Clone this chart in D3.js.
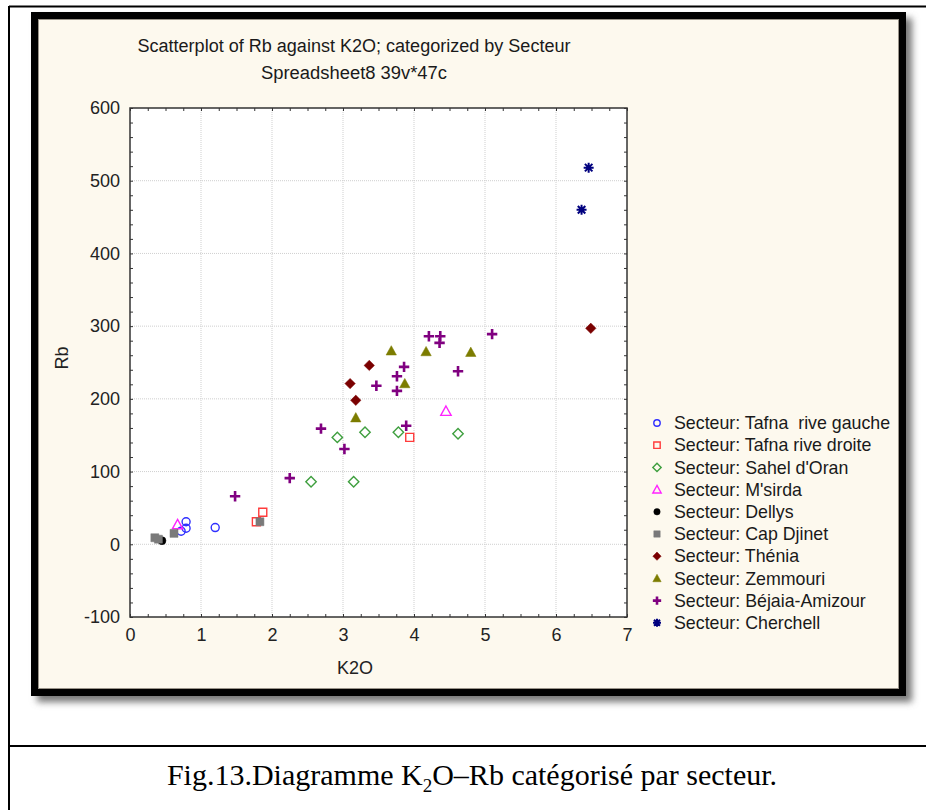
<!DOCTYPE html>
<html>
<head>
<meta charset="utf-8">
<script src="https://cdn.jsdelivr.net/npm/d3@7"></script>
<style>
  body { margin: 0; background: #fff; }
  svg { display: block; }
</style>
</head>
<body>
<div id="chart"></div>
<script>
// K2O / Rb pairs, one array per sector
var tafnaGauche  = [[0.72, 18], [0.79, 22], [0.79, 31], [1.20, 23]];
var tafnaDroite  = [[1.78, 31], [1.87, 44], [3.94, 147]];
var sahelOran    = [[2.55, 86], [2.92, 147], [3.15, 86], [3.31, 154], [3.78, 154], [4.62, 152]];
var msirda       = [[0.67, 27], [4.45, 183]];
var dellys       = [[0.45, 5]];
var capDjinet    = [[0.35, 9], [0.40, 7], [0.62, 15], [1.83, 31]];
var thenia       = [[3.10, 221], [3.18, 198], [3.37, 246], [6.49, 297]];
var zemmouri     = [[3.18, 174], [3.68, 266], [3.87, 221], [4.17, 265], [4.80, 264]];
var bejaia       = [[1.48, 66], [2.25, 91], [2.69, 159], [3.02, 131], [3.47, 218], [3.76, 231],
                    [3.76, 211], [3.86, 244], [3.89, 163], [4.21, 286], [4.36, 277], [4.37, 286],
                    [4.62, 238], [5.10, 289]];
var cherchell    = [[6.36, 460], [6.46, 518]];

var sectorNames = ["Secteur: Tafna  rive gauche", "Secteur: Tafna rive droite", "Secteur: Sahel d'Oran",
                   "Secteur: M'sirda", "Secteur: Dellys", "Secteur: Cap Djinet", "Secteur: Thénia",
                   "Secteur: Zemmouri", "Secteur: Béjaia-Amizour", "Secteur: Cherchell"];
var sectorData = [tafnaGauche, tafnaDroite, sahelOran, msirda, dellys, capDjinet, thenia, zemmouri, bejaia, cherchell];
var sectorColors = ["#2f2fff", "#ff3b3b", "#3f9f3f", "#ff22ff", "#000000", "#7a7a7a", "#7a0000", "#7c7c00", "#800080", "#00007f"];
var sectorShapes = ["circle", "square", "diamond", "triangle", "dot", "fsquare", "fdiamond", "ftriangle", "plus", "star"];

var xTicks = [0, 1, 2, 3, 4, 5, 6, 7];
var yTicks = [-100, 0, 100, 200, 300, 400, 500, 600];

var width = 926, height = 810;

var svg = d3.select("#chart").append("svg")
  .attr("width", width)
  .attr("height", height);

// outer table frame of the document page
svg.append("line").attr("x1", 9).attr("x2", width).attr("y1", 6.5).attr("y2", 6.5)
  .attr("stroke", "#000").attr("stroke-width", 2);
svg.append("line").attr("x1", 9).attr("x2", 9).attr("y1", 6).attr("y2", height)
  .attr("stroke", "#000").attr("stroke-width", 2);
svg.append("line").attr("x1", 9).attr("x2", width).attr("y1", 746).attr("y2", 746)
  .attr("stroke", "#000").attr("stroke-width", 2);

// drop shadow behind the chart panel
var defs = svg.append("defs");
defs.append("filter").attr("id", "shadow").attr("x", "-5%").attr("y", "-5%").attr("width", "110%").attr("height", "110%")
  .append("feGaussianBlur").attr("stdDeviation", 3.5);

svg.append("rect")
  .attr("x", 37).attr("y", 18).attr("width", 875).attr("height", 684)
  .attr("fill", "#777").attr("filter", "url(#shadow)");

svg.append("rect")
  .attr("x", 31).attr("y", 12).attr("width", 875).attr("height", 684)
  .attr("fill", "#000");
svg.append("rect")
  .attr("x", 38.5).attr("y", 19.5).attr("width", 860).attr("height", 669)
  .attr("fill", "#fdf9ee").attr("stroke", "#9a948a").attr("stroke-width", 1);

var x = d3.scaleLinear().domain([0, 7]).range([130, 627]);
var y = d3.scaleLinear().domain([-100, 600]).range([617, 108]);

var plot = svg.append("g");

plot.append("rect")
  .attr("x", x(0)).attr("y", y(600))
  .attr("width", x(7) - x(0)).attr("height", y(-100) - y(600))
  .attr("fill", "#fff");

// dotted grid at the major ticks
plot.append("g").selectAll("line")
  .data(xTicks.slice(1, -1))
  .enter().append("line")
  .attr("x1", function(d) { return x(d); }).attr("x2", function(d) { return x(d); })
  .attr("y1", y(600)).attr("y2", y(-100))
  .attr("stroke", "#cfcfcf").attr("stroke-dasharray", "1,1");
plot.append("g").selectAll("line")
  .data(yTicks.slice(1, -1))
  .enter().append("line")
  .attr("x1", x(0)).attr("x2", x(7))
  .attr("y1", function(d) { return y(d); }).attr("y2", function(d) { return y(d); })
  .attr("stroke", "#cfcfcf").attr("stroke-dasharray", "1,1");

// axes on all four sides, minor ticks pointing inward
var xMinor = d3.range(0, 7.001, 0.25);
var yMinor = d3.range(-100, 600.001, 20);

var axisStyle = function(g) {
  g.select(".domain").remove();
  g.selectAll(".tick line").attr("stroke", "#333");
  g.selectAll(".tick text").attr("fill", "#222")
    .style("font-family", "Liberation Sans, Arial, sans-serif").style("font-size", "18px");
};

svg.append("g").attr("transform", "translate(0," + y(-100) + ")")
  .call(d3.axisTop(x).tickValues(xMinor).tickSize(3).tickFormat(""))
  .call(axisStyle);
svg.append("g").attr("transform", "translate(0," + y(600) + ")")
  .call(d3.axisBottom(x).tickValues(xMinor).tickSize(3).tickFormat(""))
  .call(axisStyle);
svg.append("g").attr("transform", "translate(" + x(0) + ",0)")
  .call(d3.axisRight(y).tickValues(yMinor).tickSize(3).tickFormat(""))
  .call(axisStyle);
svg.append("g").attr("transform", "translate(" + x(7) + ",0)")
  .call(d3.axisLeft(y).tickValues(yMinor).tickSize(3).tickFormat(""))
  .call(axisStyle);

// labels (plain hyphen for negatives, as in the original)
svg.append("g").attr("transform", "translate(0," + y(-100) + ")")
  .call(d3.axisBottom(x).tickValues(xTicks).tickSize(0).tickPadding(11).tickFormat(String))
  .call(axisStyle);
svg.append("g").attr("transform", "translate(" + x(0) + ",0)")
  .call(d3.axisLeft(y).tickValues(yTicks).tickSize(0).tickPadding(10).tickFormat(String))
  .call(axisStyle);

plot.append("rect")
  .attr("x", x(0)).attr("y", y(600))
  .attr("width", x(7) - x(0)).attr("height", y(-100) - y(600))
  .attr("fill", "none").attr("stroke", "#333").attr("stroke-width", 1.5);

// marker paths
function shapePath(type, s) {
  switch (type) {
    case "circle":
    case "dot":
      return "M" + s + ",0A" + s + "," + s + " 0 1,1 " + (-s) + ",0A" + s + "," + s + " 0 1,1 " + s + ",0Z";
    case "square":
    case "fsquare":
      return "M" + (-s) + "," + (-s) + "H" + s + "V" + s + "H" + (-s) + "Z";
    case "diamond":
    case "fdiamond":
      var d = s * 1.3;
      return "M0," + (-d) + "L" + d + ",0L0," + d + "L" + (-d) + ",0Z";
    case "triangle":
    case "ftriangle":
      var t = s * 1.3;
      return "M0," + (-t) + "L" + t + "," + (t * 0.8) + "L" + (-t) + "," + (t * 0.8) + "Z";
    case "plus":
      var p = s * 1.3;
      return "M" + (-p) + ",0H" + p + "M0," + (-p) + "V" + p;
    case "star":
      var a = s * 1.25, b = a * 0.75;
      return "M" + (-a) + ",0H" + a + "M0," + (-a) + "V" + a +
             "M" + (-b) + "," + (-b) + "L" + b + "," + b + "M" + (-b) + "," + b + "L" + b + "," + (-b);
  }
}
function isFilled(type) { return ["dot", "fsquare", "fdiamond", "ftriangle"].indexOf(type) >= 0; }
function isStroke(type) { return ["plus", "star"].indexOf(type) >= 0; }

function drawMark(sel, i, s) {
  var type = sectorShapes[i], c = sectorColors[i];
  sel.attr("d", shapePath(type, s))
    .attr("fill", isFilled(type) ? c : (isStroke(type) ? "none" : "#fff"))
    .attr("fill-opacity", isFilled(type) || isStroke(type) ? 1 : 0)
    .attr("stroke", c)
    .attr("stroke-width", type === "plus" ? 2.6 : (type === "star" ? 2 : (isFilled(type) ? 0.5 : 1.4)));
}

sectorData.forEach(function(series, i) {
  plot.append("g").selectAll("path")
    .data(series)
    .enter().append("path")
    .attr("transform", function(d) { return "translate(" + x(d[0]) + "," + y(d[1]) + ")"; })
    .each(function() { drawMark(d3.select(this), i, 4); });
});

// legend
var legend = svg.append("g");
var row = legend.selectAll("g")
  .data(sectorNames)
  .enter().append("g")
  .attr("transform", function(d, i) { return "translate(657," + (423 + i * 22.2) + ")"; });
row.append("path").each(function(d, i) { drawMark(d3.select(this), i, 3.2); });
row.append("text")
  .attr("x", 17).attr("dy", "0.35em")
  .attr("fill", "#1a1a1a")
  .style("white-space", "pre")
  .style("font-family", "Liberation Sans, Arial, sans-serif").style("font-size", "17.8px")
  .text(function(d) { return d; });

// titles, condensed like the original
var titleFont = "Liberation Sans Narrow, Arial Narrow, Liberation Sans, sans-serif";
svg.append("text").attr("x", 354).attr("y", 52).attr("text-anchor", "middle")
  .attr("textLength", 433).attr("lengthAdjust", "spacingAndGlyphs")
  .style("font-family", titleFont).style("font-size", "18px").attr("fill", "#1a1a1a")
  .text("Scatterplot of Rb against K2O; categorized by Secteur");
svg.append("text").attr("x", 354).attr("y", 79).attr("text-anchor", "middle")
  .attr("textLength", 186).attr("lengthAdjust", "spacingAndGlyphs")
  .style("font-family", titleFont).style("font-size", "18px").attr("fill", "#1a1a1a")
  .text("Spreadsheet8 39v*47c");

svg.append("text").attr("x", 355).attr("y", 674).attr("text-anchor", "middle")
  .style("font-family", "Liberation Sans, Arial, sans-serif").style("font-size", "18px").attr("fill", "#222")
  .text("K2O");
svg.append("text").attr("transform", "translate(68,358) rotate(-90)").attr("text-anchor", "middle")
  .style("font-family", "Liberation Sans, Arial, sans-serif").style("font-size", "18px").attr("fill", "#222")
  .text("Rb");

// caption below the figure
var cap = svg.append("text").attr("x", 472).attr("y", 785).attr("text-anchor", "middle")
  .style("font-family", "Liberation Serif, Times New Roman, serif").style("font-size", "30px").attr("fill", "#000");
cap.append("tspan").text("Fig.13.Diagramme K");
cap.append("tspan").attr("dy", 7).style("font-size", "19px").text("2");
cap.append("tspan").attr("dy", -7).text("O–Rb catégorisé par secteur.");
</script>
</body>
</html>
